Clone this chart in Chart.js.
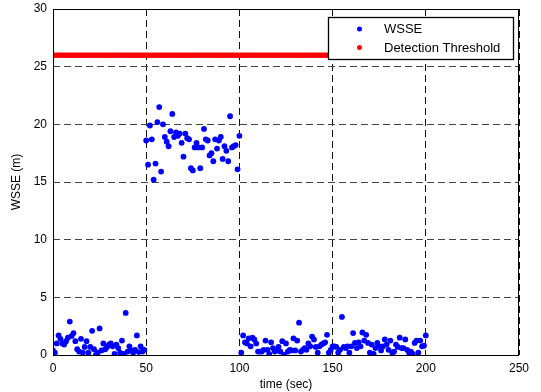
<!DOCTYPE html>
<html>
<head>
<meta charset="utf-8">
<script src="https://cdn.jsdelivr.net/npm/chart.js@4/dist/chart.umd.min.js"></script>
<style>
  body { margin: 0; background: #fff; }
  #wrap { width: 541px; height: 392px; }
</style>
</head>
<body>
<div id="wrap"><canvas id="wsseChart" width="541" height="392"></canvas></div>
<script>
// WSSE values, one sample per second
// t = 0..49 (before the fault)
const wsseBefore = [0.4, 0.2, 1.0, 1.7, 1.4, 1.0, 0.9, 1.2, 1.5, 2.9,
    1.65, 1.9, 1.2, 0.5, 0.3, 1.4, 0.2, 0.7, 1.2, 0.2,
    0.7, 2.1, 0.5, 0.0, 0.2, 2.3, 0.4, 1.0, 0.5, 0.7,
    0.9, 1.0, 0.75, 0.1, 0.9, 0.6, 0.2, 1.25, 0.1, 3.65,
    0.3, 0.75, 0.4, 0.2, 0.45, 1.7, 0.25, 0.75, 0.3, 0.45];
// t = 50..100 (fault active)
const wsseFault = [18.6, 16.5, 19.9, 18.7, 15.2, 16.6, 20.2, 21.5, 15.9, 20.0,
    18.9, 18.5, 18.1, 19.4, 20.9, 18.9, 19.3, 19.0, 19.2, 18.4,
    17.2, 19.2, 18.8, 18.7, 16.2, 16.0, 18.0, 18.4, 18.0, 16.2,
    18.0, 19.6, 18.7, 18.6, 17.3, 17.5, 16.8, 18.7, 17.9, 18.6,
    18.9, 17.0, 18.1, 17.7, 16.8, 20.7, 18.0, 18.1, 18.2, 16.1, 19.0];
// t = 101..200 (after the fault)
const wsseAfter = [0.2, 1.7, 1.1, 1.0, 1.45, 0.75, 1.5, 1.35, 1.0, 0.3,
    0.3, 0.3, 0.45, 1.25, 0.45, 0.1, 1.1, 0.6, 0.3, 0.4,
    0.7, 0.3, 1.2, 0.0, 1.0, 0.3, 0.45, 0.4, 1.45, 0.4,
    1.25, 2.8, 0.3, 0.45, 0.6, 0.45, 1.0, 0.75, 1.6, 1.35,
    0.7, 0.2, 0.75, 0.9, 1.0, 1.1, 1.75, 0.2, 0.45, 0.75,
    0.75, 0.7, 0.2, 0.45, 3.3, 0.7, 0.6, 0.75, 0.2, 0.75,
    1.9, 1.05, 0.6, 1.1, 0.75, 1.95, 1.25, 1.75, 1.05, 0.2,
    0.9, 0.1, 0.6, 1.05, 0.75, 0.4, 0.75, 1.35, 0.9, 0.45,
    1.25, 0.2, 0.3, 0.9, 0.7, 1.5, 0.6, 0.6, 1.35, 0.45,
    0.2, 0.3, 0.1, 1.05, 1.25, 0.2, 1.25, 0.75, 0.8, 1.7];

const segmentStarts = [0, 50, 101];
const thresholdValue = 26;
const thresholdStart = 0;
const thresholdEnd = 200;

const xTicks = [0, 50, 100, 150, 200, 250];
const yTicks = [0, 5, 10, 15, 20, 25, 30];

const seriesNames = ['WSSE', 'Detection Threshold'];
const seriesColors = ['#0000ff', '#ff0000'];

// build the point list for the scatter
let wssePoints = [];
[wsseBefore, wsseFault, wsseAfter].forEach((seg, s) => {
    seg.forEach((v, i) => wssePoints.push({ x: segmentStarts[s] + i, y: v }));
});

let thresholdPoints = [];
for (let t = thresholdStart; t <= thresholdEnd; t++) {
    thresholdPoints.push({ x: t, y: thresholdValue });
}

const fontFamily = '"Liberation Sans", Arial, Helvetica, sans-serif';

// matlab style box + legend drawn on top of the dots
const boxAndLegend = {
    id: 'boxAndLegend',
    afterDraw(chart) {
        const ctx = chart.ctx;
        const a = chart.chartArea;
        ctx.save();
        ctx.strokeStyle = '#000';
        ctx.lineWidth = 1;
        ctx.strokeRect(a.left + 0.5, a.top + 0.5, a.right - a.left - 1, a.bottom - a.top);

        // legend box
        const bx = 328.5, by = 17.5, bw = 185, bh = 42;
        ctx.fillStyle = '#fff';
        ctx.fillRect(bx, by, bw, bh);
        ctx.strokeStyle = '#000';
        ctx.lineWidth = 1.3;
        ctx.strokeRect(bx, by, bw, bh);

        ctx.font = '13px ' + fontFamily;
        ctx.textBaseline = 'middle';
        ctx.textAlign = 'left';
        const rows = [29, 47.5];
        seriesNames.forEach((name, i) => {
            ctx.fillStyle = seriesColors[i];
            ctx.beginPath();
            ctx.arc(359.5, rows[i], 2.5, 0, Math.PI * 2);
            ctx.fill();
            ctx.fillStyle = '#000';
            ctx.fillText(name, 384, rows[i] + 0.5);
        });
        ctx.restore();
    }
};

let chart = new Chart(document.getElementById('wsseChart').getContext('2d'), {
    type: 'scatter',
    data: {
        datasets: [{
            label: seriesNames[0],
            data: wssePoints,
            backgroundColor: seriesColors[0],
            borderColor: seriesColors[0],
            pointRadius: 2.9,
            borderWidth: 0
        }, {
            label: seriesNames[1],
            data: thresholdPoints,
            backgroundColor: seriesColors[1],
            borderColor: seriesColors[1],
            pointRadius: 2.7,
            borderWidth: 0
        }]
    },
    options: {
        responsive: false,
        animation: false,
        devicePixelRatio: 1,
        layout: { padding: { top: 9, right: 22, left: 0, bottom: 0 } },
        plugins: {
            legend: { display: false },
            tooltip: { enabled: false }
        },
        scales: {
            x: {
                type: 'linear',
                min: xTicks[0],
                max: xTicks[xTicks.length - 1],
                afterBuildTicks: (s) => { s.ticks = xTicks.map(v => ({ value: v })); },
                afterFit: (s) => { s.height = 37; s.paddingLeft = 0; s.paddingRight = 0; },
                grid: { color: '#111', lineWidth: 1, drawTicks: false },
                border: { display: false, dash: [7, 4] },
                ticks: { color: '#000', padding: 6, font: { size: 12, family: fontFamily } },
                title: {
                    display: true,
                    text: 'time (sec)',
                    color: '#000',
                    padding: { top: 0, bottom: 0 },
                    font: { size: 12, family: fontFamily }
                }
            },
            y: {
                min: yTicks[0],
                max: yTicks[yTicks.length - 1],
                afterBuildTicks: (s) => { s.ticks = yTicks.map(v => ({ value: v })); },
                afterFit: (s) => { s.width = 53; s.paddingTop = 0; s.paddingBottom = 0; },
                grid: { color: '#444', lineWidth: 1, drawTicks: false },
                border: { display: false, dash: [7, 4] },
                ticks: { color: '#000', padding: 6, font: { size: 12, family: fontFamily } },
                title: {
                    display: true,
                    text: 'WSSE (m)',
                    color: '#000',
                    padding: { top: 9, bottom: 0 },
                    font: { size: 12, family: fontFamily }
                }
            }
        }
    },
    plugins: [boxAndLegend]
});
</script>
</body>
</html>
